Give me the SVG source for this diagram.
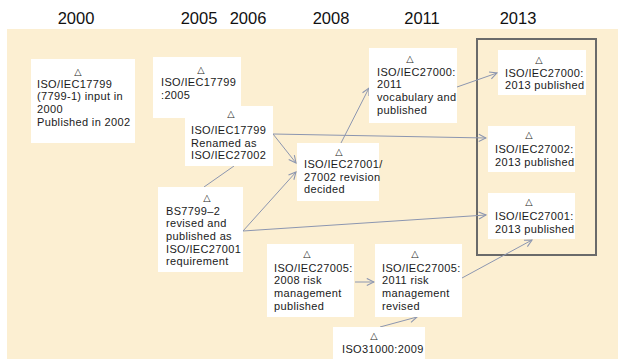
<svg xmlns="http://www.w3.org/2000/svg" width="618" height="359" viewBox="0 0 618 359">
  <defs>
    <style>
      .yr { font-family: "Liberation Sans", Arial, sans-serif; font-size: 16.5px; fill: #111; }
      .box { fill: #ffffff; stroke: none; }
      .t { font-family: "Liberation Sans", Arial, sans-serif; font-size: 11px; letter-spacing: 0.35px; fill: #1a1a1a; }
      .tri { font-family: "DejaVu Sans", sans-serif; font-size: 9.5px; fill: #1a1a1a; text-anchor: middle; }
      .conn { stroke: #8C96B0; stroke-width: 1; fill: none; marker-end: url(#arr); }
      .plain { stroke: #8C96B0; stroke-width: 1; fill: none; }
    </style>
    <marker id="arr" viewBox="0 0 10 10" refX="9" refY="5" markerWidth="9" markerHeight="9" markerUnits="userSpaceOnUse" orient="auto">
      <path d="M1,1 L9,5 L1,9" fill="none" stroke="#8C96B0" stroke-width="1.2"/>
    </marker>
  </defs>

  <rect x="0" y="0" width="618" height="359" fill="#ffffff"/>
  <rect x="7" y="29" width="611" height="330" fill="#FCEFD2"/>

  <g id="years">
    <text class="yr" x="76" y="24" text-anchor="middle">2000</text>
    <text class="yr" x="199" y="24" text-anchor="middle">2005</text>
    <text class="yr" x="248" y="24" text-anchor="middle">2006</text>
    <text class="yr" x="331" y="24" text-anchor="middle">2008</text>
    <text class="yr" x="422" y="24" text-anchor="middle">2011</text>
    <text class="yr" x="518" y="24" text-anchor="middle">2013</text>
  </g>

  <g id="frame2013">
    <rect x="477" y="39" width="119" height="216" fill="none" stroke="#6A6A6A" stroke-width="2"/>
  </g>

  <g id="connectors">
    <line class="plain" x1="204" y1="187" x2="234" y2="166"/>
    <line class="conn" x1="273" y1="134" x2="486" y2="138"/>
    <line class="conn" x1="273" y1="134" x2="296" y2="163"/>
    <line class="conn" x1="243" y1="231" x2="296" y2="172"/>
    <line class="conn" x1="243" y1="231" x2="486" y2="215"/>
    <line class="conn" x1="341" y1="143" x2="369" y2="88"/>
    <line class="conn" x1="457" y1="87" x2="497" y2="73"/>
    <line class="conn" x1="355" y1="282" x2="374" y2="282"/>
    <line class="conn" x1="380" y1="327" x2="417" y2="317"/>
    <line class="conn" x1="462" y1="278" x2="532" y2="240"/>
  </g>

  <g id="n2000">
    <rect class="box" x="31" y="59" width="104" height="84"/>
    <text class="tri" x="78" y="74.5">△</text>
    <text class="t" x="37" y="87.5">ISO/IEC17799</text>
    <text class="t" x="37" y="100.2">(7799-1) input  in</text>
    <text class="t" x="37" y="112.9">2000</text>
    <text class="t" x="37" y="125.6">Published in 2002</text>
  </g>

  <g id="n17799_2005">
    <rect class="box" x="153" y="57" width="88" height="61"/>
    <text class="tri" x="201" y="72.5">△</text>
    <text class="t" x="161" y="86">ISO/IEC17799</text>
    <text class="t" x="161" y="98.7">:2005</text>
  </g>

  <g id="nRenamed">
    <rect class="box" x="185" y="106" width="88" height="60"/>
    <text class="tri" x="231" y="117">△</text>
    <text class="t" x="191" y="134">ISO/IEC17799</text>
    <text class="t" x="191" y="146.7">Renamed  as</text>
    <text class="t" x="191" y="159.4">ISO/IEC27002</text>
  </g>

  <g id="nBS7799">
    <rect class="box" x="158" y="187" width="85" height="85"/>
    <text class="tri" x="207" y="201">△</text>
    <text class="t" x="166" y="214.5">BS7799‒2</text>
    <text class="t" x="166" y="227.2">revised and</text>
    <text class="t" x="166" y="239.9">published as</text>
    <text class="t" x="166" y="252.6">ISO/IEC27001</text>
    <text class="t" x="166" y="265.3">requirement</text>
  </g>

  <g id="nRevision">
    <rect class="box" x="297" y="143" width="82" height="58"/>
    <text class="tri" x="339" y="155">△</text>
    <text class="t" x="304" y="168">ISO/IEC27001/</text>
    <text class="t" x="304" y="180.7">27002 revision</text>
    <text class="t" x="304" y="193.4">decided</text>
  </g>

  <g id="n27000_2011">
    <rect class="box" x="369" y="48" width="88" height="75"/>
    <text class="tri" x="410" y="62">△</text>
    <text class="t" x="377" y="75.5">ISO/IEC27000:</text>
    <text class="t" x="377" y="88.2">2011</text>
    <text class="t" x="377" y="100.9">vocabulary and</text>
    <text class="t" x="377" y="113.6">published</text>
  </g>

  <g id="n27000_2013">
    <rect class="box" x="498" y="50" width="88" height="45"/>
    <text class="tri" x="539" y="63">△</text>
    <text class="t" x="505" y="76.5">ISO/IEC27000:</text>
    <text class="t" x="505" y="89.2">2013 published</text>
  </g>

  <g id="n27002_2013">
    <rect class="box" x="488" y="126" width="87" height="46"/>
    <text class="tri" x="529" y="138">△</text>
    <text class="t" x="495" y="153">ISO/IEC27002:</text>
    <text class="t" x="495" y="165.7">2013 published</text>
  </g>

  <g id="n27001_2013">
    <rect class="box" x="488" y="193" width="87" height="46"/>
    <text class="tri" x="529" y="204.5">△</text>
    <text class="t" x="495" y="220">ISO/IEC27001:</text>
    <text class="t" x="495" y="232.7">2013 published</text>
  </g>

  <g id="n27005_2008">
    <rect class="box" x="267" y="244" width="87" height="73"/>
    <text class="tri" x="307" y="257">△</text>
    <text class="t" x="274" y="271.5">ISO/IEC27005:</text>
    <text class="t" x="274" y="284.2">2008  risk</text>
    <text class="t" x="274" y="296.9">management</text>
    <text class="t" x="274" y="309.6">published</text>
  </g>

  <g id="n27005_2011">
    <rect class="box" x="375" y="244" width="87" height="73"/>
    <text class="tri" x="415" y="257">△</text>
    <text class="t" x="382" y="271.5">ISO/IEC27005:</text>
    <text class="t" x="382" y="284.2">2011  risk</text>
    <text class="t" x="382" y="296.9">management</text>
    <text class="t" x="382" y="309.6">revised</text>
  </g>

  <g id="n31000">
    <rect class="box" x="333" y="327" width="92" height="40"/>
    <text class="tri" x="374" y="339">△</text>
    <text class="t" x="342" y="353">ISO31000:2009</text>
  </g>
</svg>
